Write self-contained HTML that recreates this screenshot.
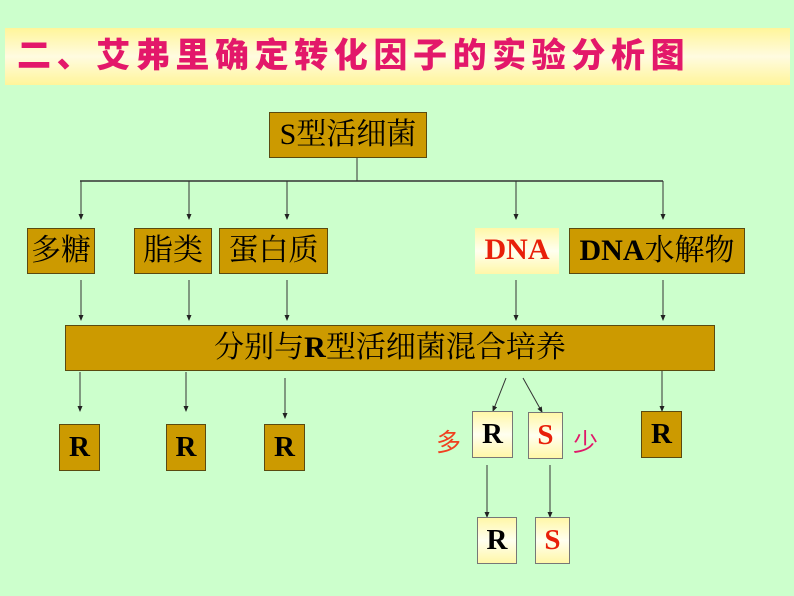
<!DOCTYPE html>
<html><head><meta charset="utf-8"><style>
html,body{margin:0;padding:0}
body{width:794px;height:596px;background:#ccffcc;position:relative;overflow:hidden;font-family:"Liberation Serif","Noto Serif CJK SC",serif}
.t{position:absolute;left:5px;top:28px;width:785px;height:57px;background:linear-gradient(#fff59a,#fffbe0 50%,#fff59a)}
.t span{position:absolute;left:12px;top:8px;font-family:"Liberation Sans","Noto Sans CJK SC",sans-serif;font-weight:900;font-size:34px;letter-spacing:5.6px;color:#e3186a;white-space:nowrap;line-height:40px}
.b{position:absolute;box-sizing:border-box;background:#cc9a00;border:1px solid #5a4a10;color:#000;font-size:30px;text-align:center;white-space:nowrap}
.y{background:linear-gradient(#fff7a8,#fffff0 50%,#fff7a8);border:1px solid #777}
.r{font-weight:bold;font-size:29px}
.red{color:#e8200a}
.c{position:absolute;font-size:25px;font-family:"Liberation Sans","Noto Sans CJK SC",sans-serif}
</style></head><body>
<div class="t"><span>二、艾弗里确定转化因子的实验分析图</span></div>

<svg width="794" height="596" style="position:absolute;left:0;top:0">
<defs><marker id="a" markerWidth="6" markerHeight="6" refX="5" refY="3" orient="auto" markerUnits="userSpaceOnUse"><path d="M0,0.5 L6,3 L0,5.5z" fill="#222"/></marker></defs>
<g stroke="#333" stroke-width="1" fill="none">
<line x1="357" y1="157" x2="357" y2="181"/>
<line x1="80" y1="181" x2="663" y2="181" stroke-width="1.5"/>
<line x1="81" y1="181" x2="81" y2="219" marker-end="url(#a)"/>
<line x1="189" y1="181" x2="189" y2="219" marker-end="url(#a)"/>
<line x1="287" y1="181" x2="287" y2="219" marker-end="url(#a)"/>
<line x1="516" y1="181" x2="516" y2="219" marker-end="url(#a)"/>
<line x1="663" y1="181" x2="663" y2="219" marker-end="url(#a)"/>
<line x1="81" y1="280" x2="81" y2="320" marker-end="url(#a)"/>
<line x1="189" y1="280" x2="189" y2="320" marker-end="url(#a)"/>
<line x1="287" y1="280" x2="287" y2="320" marker-end="url(#a)"/>
<line x1="516" y1="280" x2="516" y2="320" marker-end="url(#a)"/>
<line x1="663" y1="280" x2="663" y2="320" marker-end="url(#a)"/>
<line x1="80" y1="372" x2="80" y2="411" marker-end="url(#a)"/>
<line x1="186" y1="372" x2="186" y2="411" marker-end="url(#a)"/>
<line x1="285" y1="378" x2="285" y2="418" marker-end="url(#a)"/>
<line x1="662" y1="371" x2="662" y2="411" marker-end="url(#a)"/>
<line x1="506" y1="378" x2="493" y2="411" marker-end="url(#a)"/>
<line x1="523" y1="378" x2="542" y2="412" marker-end="url(#a)"/>
<line x1="487" y1="465" x2="487" y2="517" marker-end="url(#a)"/>
<line x1="550" y1="465" x2="550" y2="517" marker-end="url(#a)"/>
</g></svg>

<div class="b" style="left:269px;top:112px;width:158px;height:46px;line-height:44px">S型活细菌</div>
<div class="b" style="left:27px;top:228px;width:68px;height:46px;line-height:44px">多糖</div>
<div class="b" style="left:134px;top:228px;width:78px;height:46px;line-height:44px">脂类</div>
<div class="b" style="left:219px;top:228px;width:109px;height:46px;line-height:44px">蛋白质</div>
<div class="b y" style="left:475px;top:228px;width:84px;height:46px;line-height:44px;border:none;font-weight:bold;color:#e8200a">DNA</div>
<div class="b" style="left:569px;top:228px;width:176px;height:46px;line-height:44px"><b>DNA</b>水解物</div>
<div class="b" style="left:65px;top:325px;width:650px;height:46px;line-height:44px">分别与<b>R</b>型活细菌混合培养</div>

<div class="b r" style="left:59px;top:424px;width:41px;height:47px;line-height:45px">R</div>
<div class="b r" style="left:166px;top:424px;width:40px;height:47px;line-height:45px">R</div>
<div class="b r" style="left:264px;top:424px;width:41px;height:47px;line-height:45px">R</div>
<div class="b r" style="left:641px;top:411px;width:41px;height:47px;line-height:45px">R</div>
<div class="b r y" style="left:472px;top:411px;width:41px;height:47px;line-height:45px">R</div>
<div class="b r y red" style="left:528px;top:412px;width:35px;height:47px;line-height:45px">S</div>
<div class="b r y" style="left:477px;top:517px;width:40px;height:47px;line-height:45px">R</div>
<div class="b r y red" style="left:535px;top:517px;width:35px;height:47px;line-height:45px">S</div>
<div class="c" style="left:436px;top:423px;color:#f04020">多</div>
<div class="c" style="left:573px;top:423px;color:#e0186a">少</div>
</body></html>
